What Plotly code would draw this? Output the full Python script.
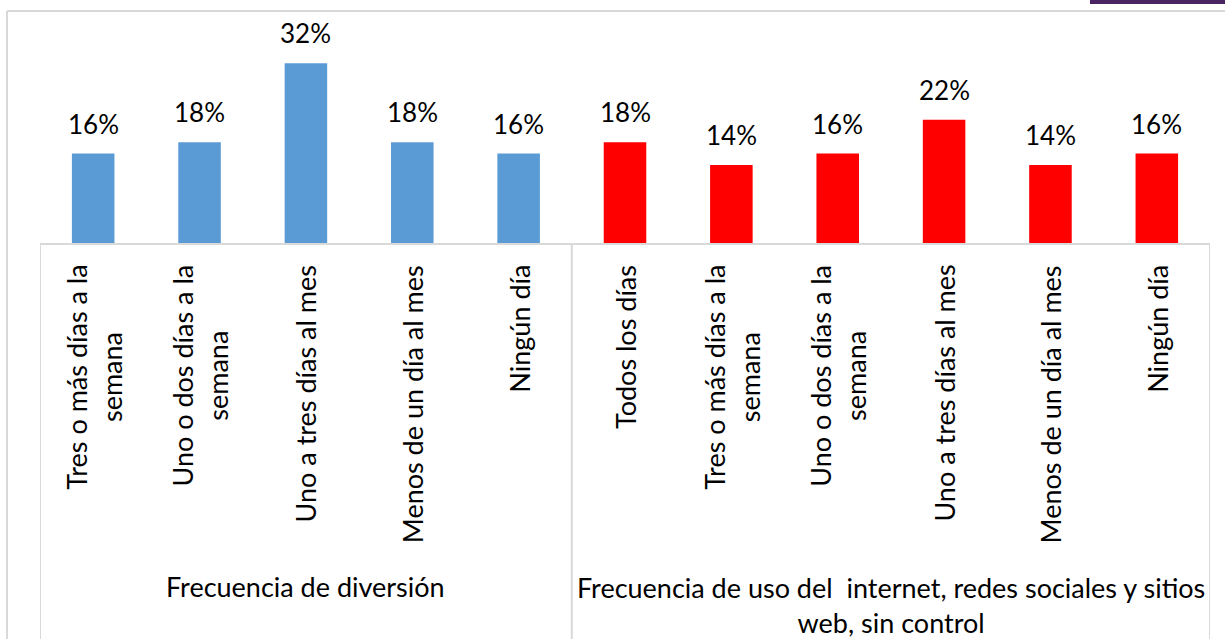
import plotly.graph_objects as go

# data
group_a = "Frecuencia de diversión"
group_b = "Frecuencia de uso del  internet, redes sociales y sitios<br>web, sin control"
labels_a = ["Tres o más días a la<br>semana", "Uno o dos días a la<br>semana",
            "Uno a tres días al mes", "Menos de un día al mes", "Ningún día"]
labels_b = ["Todos los días", "Tres o más días a la<br>semana", "Uno o dos días a la<br>semana",
            "Uno a tres días al mes", "Menos de un día al mes", "Ningún día"]
values_a = [0.16, 0.18, 0.32, 0.18, 0.16]
values_b = [0.18, 0.14, 0.16, 0.22, 0.14, 0.16]

FONT = "Lato"
W, H = 1225, 639
L, R, T, B = 40, 15, 11, 395
PLOT_H = H - T - B


def py(pix):
    # pixel row -> paper y
    return (H - B - pix) / PLOT_H


def px(pix):
    return (pix - L) / (W - L - R)


xa = list(range(len(values_a)))
xb = list(range(len(values_a), len(values_a) + len(values_b)))

fig = go.Figure()
fig.add_trace(go.Bar(x=xa, y=values_a, width=0.4, marker=dict(color="#5B9BD5", line=dict(width=0)),
                     hoverinfo="skip"))
fig.add_trace(go.Bar(x=xb, y=values_b, width=0.4, marker=dict(color="#FF0000", line=dict(width=0)),
                     hoverinfo="skip"))

n = len(values_a) + len(values_b)
fig.update_layout(width=W, height=H, margin=dict(l=L, r=R, t=T, b=B), showlegend=False,
                  barmode="overlay", plot_bgcolor="white", paper_bgcolor="white",
                  font=dict(family=FONT, color="black"),
                  xaxis=dict(range=[-0.5, n - 0.5], showgrid=False, zeroline=False,
                             showticklabels=False, showline=False, fixedrange=True),
                  yaxis=dict(range=[0, 0.4125], showgrid=False, zeroline=False,
                             showticklabels=False, showline=False, fixedrange=True))

# value labels and category labels
for x, v, lab in zip(xa + xb, values_a + values_b, labels_a + labels_b):
    fig.add_annotation(x=x, y=v, text=f"{round(v * 100)}%", showarrow=False, yanchor="bottom",
                       yshift=12, font=dict(size=26))
    fig.add_annotation(x=x, y=0, yref="paper", text=lab, showarrow=False, textangle=-90,
                       yanchor="top", xanchor="center", yshift=-19, align="center",
                       font=dict(size=27))

# group labels
fig.add_annotation(x=(xa[0] + xa[-1]) / 2, y=py(586), yref="paper", text=group_a, showarrow=False,
                   yanchor="middle", font=dict(size=27))
fig.add_annotation(x=(xb[0] + xb[-1]) / 2, y=py(605), yref="paper", text=group_b, showarrow=False,
                   yanchor="middle", align="center", font=dict(size=27))

grey = dict(color="#D9D9D9", width=2)
# axis box and group divider
fig.add_shape(type="line", xref="x", yref="paper", x0=-0.5, x1=n - 0.5, y0=0, y1=0, line=grey)
for xv in [-0.5, len(values_a) - 0.5, n - 0.5]:
    fig.add_shape(type="line", xref="x", yref="paper", x0=xv, x1=xv, y0=0, y1=py(H + 5), line=grey)

# chart area border and the purple strip on top
fig.add_shape(type="line", xref="paper", yref="paper", x0=px(7), x1=px(W + 5), y0=py(11), y1=py(11),
              line=grey)
fig.add_shape(type="line", xref="paper", yref="paper", x0=px(7), x1=px(7), y0=py(11), y1=py(H + 5),
              line=grey)
fig.add_shape(type="rect", xref="paper", yref="paper", x0=px(1090), x1=px(W + 5), y0=py(4), y1=py(-5),
              line=dict(width=0), fillcolor="#4B2563")

# drop the page margin so the figure sits at the window's corner
fig.write_html("out.html", config={"displayModeBar": False},
               post_script="document.body.style.margin='0';")
